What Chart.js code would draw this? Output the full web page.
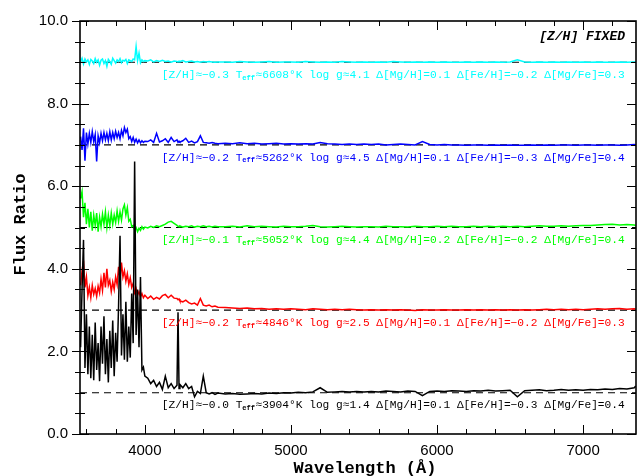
<!DOCTYPE html>
<html>
<head>
<meta charset="utf-8">
<title>Flux ratio spectra</title>
<script src="https://cdn.jsdelivr.net/npm/chart.js@4.4.1/dist/chart.umd.min.js"></script>
<style>
  html, body { margin: 0; padding: 0; background: #fff; }
  canvas { display: block; }
</style>
</head>
<body>
<canvas id="spec" width="638" height="476"></canvas>
<script>
// wavelength grid (Angstrom): fine in the blue, coarse in the red
const wavelength = [
  3560,3570,3580,3590,3600,3610,3620,3630,3640,3650,3660,3670,3680,3690,3700,3710,3720,3730,3740,3750,
  3760,3770,3780,3790,3800,3810,3820,3830,3840,3850,3860,3870,3880,3890,3900,3910,3920,3930,3940,3950,
  3960,3970,3980,3990,4000,
  4020,4040,4060,4080,4100,4120,4140,4160,4180,4200,4220,4227,4234,4240,4260,4280,4300,4320,4340,4360,
  4380,4400,4420,4440,4460,4480,4500,
  4550,4600,4650,4700,4750,4800,4850,4900,4950,5000,5050,5100,5150,5200,5250,5300,5350,5400,5450,5500,
  5550,5600,5650,5700,5750,5800,5850,5900,5950,6000,6050,6100,6150,6200,6250,6300,6350,6400,6450,6500,
  6550,6600,6650,6700,6750,6800,6850,6900,6950,7000,7050,7100,7150,7200,7250,7300,7350,7360
];

// flux ratios, one list per star (before the vertical shift)
const ratioK = [
  2.10,3.50,4.70,1.60,2.90,1.45,2.60,1.35,2.40,1.30, 2.70,1.55,2.20,1.28,2.60,1.70,2.85,1.45,2.30,1.25,
  2.50,1.60,2.75,1.40,2.45,1.75,3.10,4.80,1.90,2.90, 1.80,3.20,1.75,2.60,1.85,3.40,2.20,6.60,2.40,3.50,
  2.10,3.80,1.55,1.62,1.40,
  1.35,1.22,1.30,1.15,1.25,1.08,1.40,1.12,1.22,1.10, 1.18,2.95,1.10,1.20,1.12,1.22,1.10,1.15,0.90,1.03,
  0.98,1.40,1.00,0.97,1.00,0.96,0.99,
  0.97,0.98,0.96,0.97,0.98,0.97,0.99,0.98,1.00,0.99, 1.01,1.00,1.02,1.12,1.01,1.02,1.03,1.02,1.03,1.02,
  1.03,1.02,1.04,1.03,1.02,1.04,1.03,0.93,1.03,1.04, 1.03,1.05,1.04,1.03,1.05,1.04,1.06,1.04,1.05,1.06,
  0.90,1.05,1.06,1.07,1.05,1.06,1.08,1.06,1.07,1.06, 1.08,1.07,1.09,1.08,1.10,1.09,1.12,1.16
];
const ratioR = [
  1.60,1.95,2.20,1.55,1.80,1.35,1.55,1.30,1.60,1.38, 1.52,1.33,1.58,1.42,1.75,1.48,1.90,1.55,2.00,1.60,
  1.72,1.45,1.68,1.50,1.80,1.62,2.05,1.75,2.15,1.80, 1.95,1.70,1.88,1.62,1.78,1.55,1.65,1.42,1.52,1.36,
  1.45,1.32,1.40,1.30,1.36,
  1.28,1.34,1.26,1.31,1.27,1.35,1.38,1.30,1.36,1.29, 1.28,1.25,1.27,1.22,1.20,1.24,1.18,1.15,1.17,1.12,
  1.28,1.12,1.10,1.12,1.08,1.10,1.07,
  1.06,1.05,1.04,1.05,1.03,1.04,1.02,1.03,1.02,1.03, 1.02,1.01,1.03,1.02,1.01,1.02,1.01,1.02,1.01,1.00,
  1.01,1.00,1.01,1.00,1.01,1.00,0.99,1.01,1.00,1.00, 1.01,1.00,1.00,1.01,1.00,1.01,1.00,1.01,1.00,1.01,
  1.00,1.01,1.00,1.01,1.02,1.01,1.02,1.01,1.02,1.01, 1.02,1.03,1.02,1.03,1.04,1.02,1.03,1.02
];
const ratioG = [
  1.70,1.87,1.25,1.60,1.08,1.45,1.00,1.38,0.92,1.30, 1.05,1.35,0.90,1.25,1.02,1.32,1.08,1.38,1.00,1.30,
  1.05,1.35,1.08,1.30,1.12,1.40,1.15,1.38,1.18,1.45, 1.55,1.30,1.48,1.15,1.20,1.02,1.05,0.95,1.00,0.90,
  0.98,0.93,1.02,0.96,1.01,
  0.99,1.03,1.00,1.04,1.02,1.05,1.08,1.13,1.15,1.10, 1.05,1.03,1.02,1.04,1.01,1.03,1.02,1.04,1.01,1.03,
  1.02,1.04,1.02,1.03,1.01,1.03,1.02,
  1.02,1.03,1.01,1.04,1.02,1.03,1.02,1.01,1.03,1.02, 1.02,1.03,1.05,1.02,1.01,1.02,1.03,1.02,1.01,1.02,
  1.02,1.01,1.03,1.02,1.02,1.01,1.03,1.02,1.02,1.03, 1.02,1.03,1.02,1.02,1.03,1.02,1.03,1.02,1.03,1.02,
  1.03,1.02,1.03,1.04,1.03,1.03,1.04,1.03,1.04,1.05, 1.05,1.06,1.07,1.08,1.06,1.07,1.06,1.05
];
const ratioB = [
  1.20,0.88,1.40,0.62,1.30,1.02,1.28,1.06,1.32,1.08, 1.25,0.60,1.22,1.05,1.28,1.10,1.30,1.12,1.28,1.10,
  1.32,1.12,1.30,1.15,1.33,1.18,1.30,1.15,1.35,1.22, 1.42,1.30,1.38,1.15,1.20,1.08,1.18,1.06,1.14,1.05,
  1.12,1.05,1.10,1.06,1.09,
  1.08,1.12,1.06,1.28,1.07,1.10,1.15,1.06,1.18,1.08, 1.12,1.06,1.09,1.07,1.10,1.16,1.06,1.09,1.05,1.08,
  1.22,1.06,1.05,1.04,1.06,1.04,1.03,
  1.04,1.03,1.05,1.03,1.04,1.02,1.03,1.04,1.02,1.03, 1.02,1.03,1.02,1.06,1.03,1.02,1.01,1.02,1.01,1.02,
  1.01,1.02,1.00,1.01,1.02,1.01,1.00,1.08,1.01,1.00, 1.01,1.00,1.00,0.99,1.00,1.00,0.99,1.00,0.99,1.00,
  0.99,0.99,1.00,0.99,1.00,0.99,1.00,1.00,0.99,1.00, 1.00,0.99,1.00,1.00,0.99,1.00,1.01,1.00
];
const ratioC = [
  1.02,1.10,0.96,1.08,1.01,1.06,0.95,1.07,1.03,0.97, 1.09,1.00,1.06,0.93,1.05,1.08,0.97,1.04,0.90,1.07,
  1.02,0.95,1.10,1.04,0.98,1.06,1.02,1.09,0.99,1.05, 1.03,1.07,0.97,1.06,1.04,1.02,1.08,1.06,1.38,1.04,
  1.22,0.99,1.06,1.02,1.04,
  1.03,1.06,1.01,1.04,1.02,1.05,1.02,1.03,1.00,1.03, 1.02,1.01,1.03,1.02,1.04,1.01,1.02,1.03,1.01,1.02,
  1.00,1.02,1.01,1.02,1.01,1.00,1.01,
  1.01,1.00,1.02,1.01,1.00,1.01,1.02,1.00,1.01,1.01, 1.00,1.02,1.01,1.00,1.01,1.00,1.02,1.01,1.00,1.01,
  1.00,1.01,1.00,1.02,1.01,1.00,1.01,1.00,1.01,1.00, 1.01,1.00,1.00,1.01,1.00,1.01,1.00,1.01,1.00,1.01,
  1.06,1.01,1.00,1.01,1.00,1.01,1.00,1.01,1.00,1.01, 1.00,1.01,1.00,1.00,1.01,1.00,1.01,1.00
];

// star order: bottom to top
const ratios  = [ratioK, ratioR, ratioG, ratioB, ratioC];
const offsets = [0, 2, 4, 6, 8];
const colors  = ['#000000', '#ff0000', '#00ff00', '#0000ff', '#00ffff'];

// fitted parameters printed under each spectrum
const zhText = ['−0.0', '−0.2', '−0.1', '−0.2', '−0.3'];
const teff   = [3904, 4846, 5052, 5262, 6608];
const logg   = [1.4, 2.5, 4.4, 4.5, 4.1];
const dMgH   = [0.1, 0.1, 0.2, 0.1, 0.1];
const dFeH   = [-0.3, -0.2, -0.2, -0.3, -0.2];
const dMgFe  = [0.4, 0.3, 0.4, 0.4, 0.3];

// axes
const xRange = [3556, 7362];
const yRange = [0, 10];
const xTicks = [4000, 5000, 6000, 7000];
const yTicks = [0, 2, 4, 6, 8, 10];
const xMinorStep = 200;
const yMinorStep = 0.5;

const MONO = '"Liberation Mono", "DejaVu Sans Mono", monospace';
const SANS = '"Liberation Sans", Arial, sans-serif';

function signed(v) {
  return (v < 0 ? '−' : '') + Math.abs(v).toFixed(1);
}

// spectra + dashed unit level for each
const datasets = [];
ratios.forEach((r, i) => {
  datasets.push({
    data: wavelength.map((w, k) => ({ x: w, y: r[k] + offsets[i] })),
    borderColor: colors[i],
    borderWidth: 1.5,
    pointRadius: 0,
    tension: 0,
    order: i
  });
});
offsets.forEach(off => {
  datasets.push({
    data: [{ x: xRange[0], y: 1 + off }, { x: xRange[1], y: 1 + off }],
    borderColor: '#000',
    borderWidth: 1.1,
    borderDash: [7, 5],
    pointRadius: 0,
    order: 10
  });
});

// box with inward ticks all round, left ticks also poke outside
const frameTicks = {
  id: 'frameTicks',
  afterDraw(chart) {
    const { ctx, chartArea: a, scales: { x, y } } = chart;
    ctx.save();
    ctx.strokeStyle = '#000';
    ctx.lineWidth = 1;
    ctx.beginPath();
    for (let v = yRange[0]; v <= yRange[1] + 1e-6; v += yMinorStep) {
      const py = Math.round(y.getPixelForValue(v)) + 0.5;
      const major = yTicks.includes(Math.round(v * 10) / 10);
      const len = major ? 9 : 5;
      ctx.moveTo(a.left - (major ? 8 : 5), py); ctx.lineTo(a.left + len, py);
      ctx.moveTo(a.right, py); ctx.lineTo(a.right - len, py);
    }
    for (let v = Math.ceil(xRange[0] / xMinorStep) * xMinorStep; v <= xRange[1]; v += xMinorStep) {
      const px = Math.round(x.getPixelForValue(v)) + 0.5;
      const len = xTicks.includes(v) ? 9 : 5;
      ctx.moveTo(px, a.bottom); ctx.lineTo(px, a.bottom - len);
      ctx.moveTo(px, a.top); ctx.lineTo(px, a.top + len);
    }
    ctx.stroke();
    ctx.lineWidth = 1.6;
    ctx.strokeRect(a.left, a.top, a.right - a.left, a.bottom - a.top);
    ctx.restore();
  }
};

// parameter lines, panel tag and axis titles
const notes = {
  id: 'notes',
  afterDraw(chart) {
    const { ctx, chartArea: a, scales: { x, y } } = chart;
    ctx.save();
    ctx.textBaseline = 'middle';
    ctx.textAlign = 'left';
    const x0 = x.getPixelForValue(4116);
    offsets.forEach((off, i) => {
      let px = x0;
      const py = y.getPixelForValue(off + 0.69);
      const head = '[Z/H]≈' + zhText[i] + ' T';
      const tail = '≈' + teff[i] + '°K log g≈' + logg[i].toFixed(1) +
        ' Δ[Mg/H]=' + signed(dMgH[i]) + ' Δ[Fe/H]=' + signed(dFeH[i]) +
        ' Δ[Mg/Fe]=' + signed(dMgFe[i]);
      ctx.fillStyle = colors[i];
      ctx.font = '11.2px ' + MONO;
      ctx.fillText(head, px, py);
      px += ctx.measureText(head).width;
      ctx.font = 'bold 7px ' + MONO;
      ctx.fillText('eff', px, py + 3);
      px += ctx.measureText('eff').width + 0.5;
      ctx.font = '11.2px ' + MONO;
      ctx.fillText(tail, px, py);
    });

    ctx.fillStyle = '#000';
    ctx.font = 'bold italic 13px ' + MONO;
    ctx.textAlign = 'right';
    ctx.fillText('[Z/H] FIXED', a.right - 11, a.top + 16);

    ctx.font = 'bold 17px ' + MONO;
    ctx.textAlign = 'center';
    ctx.textBaseline = 'alphabetic';
    ctx.fillText('Wavelength (Å)', (a.left + a.right) / 2 + 7, a.bottom + 39);

    ctx.save();
    ctx.translate(25, (a.top + a.bottom) / 2 - 3);
    ctx.rotate(-Math.PI / 2);
    ctx.fillText('Flux Ratio', 0, 0);
    ctx.restore();
    ctx.restore();
  }
};

new Chart(document.getElementById('spec'), {
  type: 'line',
  data: { datasets },
  options: {
    responsive: false,
    animation: false,
    events: [],
    layout: { padding: { top: 15, right: 2, left: 0, bottom: 0 } },
    plugins: { legend: { display: false }, tooltip: { enabled: false } },
    scales: {
      x: {
        type: 'linear',
        min: xRange[0],
        max: xRange[1],
        grid: { display: false, drawTicks: false },
        border: { display: false },
        afterBuildTicks: s => { s.ticks = xTicks.map(v => ({ value: v })); },
        afterFit: s => { s.height = 42; },
        ticks: {
          padding: 8,
          maxRotation: 0,
          autoSkip: false,
          color: '#000',
          font: { family: SANS, size: 15 },
          callback: v => String(v)
        }
      },
      y: {
        min: yRange[0],
        max: yRange[1],
        grid: { display: false, drawTicks: false },
        border: { display: false },
        afterBuildTicks: s => { s.ticks = yTicks.map(v => ({ value: v })); },
        afterFit: s => { s.width = 80; },
        ticks: {
          padding: 12,
          color: '#000',
          font: { family: SANS, size: 15 },
          callback: v => Number(v).toFixed(1)
        }
      }
    }
  },
  plugins: [frameTicks, notes]
});
</script>
</body>
</html>
